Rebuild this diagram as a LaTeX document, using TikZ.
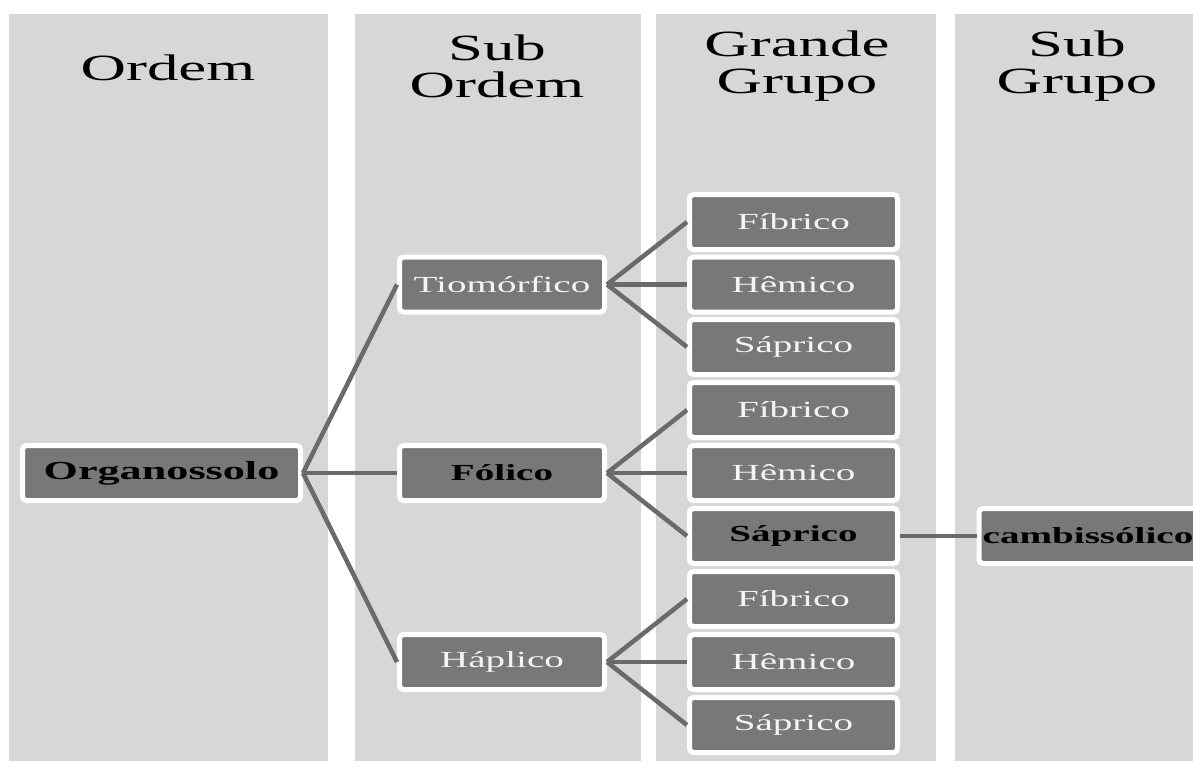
\documentclass[tikz,border=0pt]{standalone}
\usepackage{fontspec}
\usepackage{graphicx}
\setmainfont{Liberation Serif}
\definecolor{panel}{HTML}{D7D7D7}
\definecolor{boxgray}{HTML}{787878}
\definecolor{linegray}{HTML}{6A6A6A}
\definecolor{txtwhite}{HTML}{F4F4F4}
\newcommand{\sx}[1]{\scalebox{1.7}[1]{#1}}
\tikzset{
  panelbox/.style={fill=panel, draw=none},
  header/.style={align=center, font=\fontsize{37}{37}\selectfont, text=black, inner sep=0pt},
  boxnode/.style={rectangle, rounded corners=4pt, fill=boxgray, draw=white, line width=5pt,
    minimum height=55pt, inner sep=0pt, font=\fontsize{23}{27}\selectfont, text=txtwhite},
  boldnode/.style={boxnode, text=black, font=\fontsize{23}{27}\selectfont\bfseries},
  sonode/.style={boxnode, minimum width=205pt},
  ggnode/.style={boxnode, minimum width=208pt},
  link/.style={draw=linegray, line width=4.5pt},
}
\begin{document}
\begin{tikzpicture}[x=1pt, y=-1pt]
\useasboundingbox (0,0) rectangle (1193,761);
\fill[white] (0,0) rectangle (1193,761);
% panels
\fill[panelbox] (9,14) rectangle (328,761);
\fill[panelbox] (355,14) rectangle (641,761);
\fill[panelbox] (656,14) rectangle (936,761);
\fill[panelbox] (955,14) rectangle (1193,761);
% headers
\node[header] (hOrd) at (168,68) {\sx{Ordem}};
\node[header] (hSub) at (497,66) {\sx{Sub}\\\sx{Ordem}};
\node[header] (hGG) at (797,66) {\sx{Grande}\\\sx{Grupo}};
\node[header] (hSG) at (1077,66) {\sx{Sub}\\\sx{Grupo}};
% nodes
\node[boldnode, minimum width=278pt, font=\fontsize{26}{30}\selectfont\bfseries] (org) at (161.5,473) {\sx{Organossolo}};
\node[sonode] (tio) at (502,284.5) {\sx{Tiomórfico}};
\node[sonode, boldnode] (fol) at (502,473) {\sx{Fólico}};
\node[sonode] (hap) at (502,662) {\sx{Háplico}};
\node[ggnode] (f1) at (793.5,222) {\sx{Fíbrico}};
\node[ggnode] (h1) at (793.5,284.5) {\sx{Hêmico}};
\node[ggnode] (s1) at (793.5,347) {\sx{Sáprico}};
\node[ggnode] (f2) at (793.5,410) {\sx{Fíbrico}};
\node[ggnode] (h2) at (793.5,473) {\sx{Hêmico}};
\node[ggnode, boldnode] (s2) at (793.5,536) {\sx{Sáprico}};
\node[ggnode] (f3) at (793.5,599) {\sx{Fíbrico}};
\node[ggnode] (h3) at (793.5,662) {\sx{Hêmico}};
\node[ggnode] (s3) at (793.5,725) {\sx{Sáprico}};
\node[boldnode, minimum width=218pt] (cam) at (1088,536) {\sx{cambissólico}};
% connectors
\draw[link] (org.east) -- (tio.west);
\draw[link] (org.east) -- (fol.west);
\draw[link] (org.east) -- (hap.west);
\draw[link] (tio.east) -- (f1.west);
\draw[link] (tio.east) -- (h1.west);
\draw[link] (tio.east) -- (s1.west);
\draw[link] (fol.east) -- (f2.west);
\draw[link] (fol.east) -- (h2.west);
\draw[link] (fol.east) -- (s2.west);
\draw[link] (hap.east) -- (f3.west);
\draw[link] (hap.east) -- (h3.west);
\draw[link] (hap.east) -- (s3.west);
\draw[link] (s2.east) -- (cam.west);
\end{tikzpicture}
\end{document}
